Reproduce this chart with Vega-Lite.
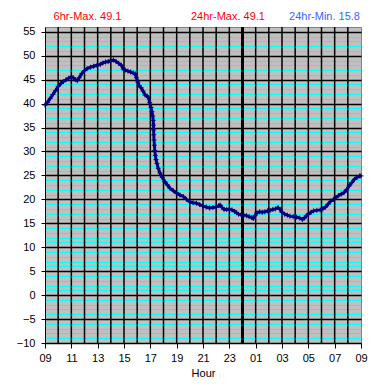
{
  "$schema": "https://vega.github.io/schema/vega-lite/v6.json",
  "width": 316,
  "height": 316,
  "autosize": {"type": "none"},
  "padding": {"left": 45, "top": 27, "right": 24, "bottom": 45},
  "background": "white",
  "config": {
    "view": {"fill": "#c0c0c0", "stroke": "#808080", "strokeWidth": 1},
    "axis": {
      "labelFont": "Liberation Sans",
      "titleFont": "Liberation Sans",
      "labelFontSize": 11,
      "titleFontSize": 11,
      "titleFontWeight": "normal",
      "labelColor": "black",
      "titleColor": "black",
      "domainColor": "black",
      "tickColor": "black",
      "labelOverlap": false,
      "labelFlush": false,
      "labelBound": false
    }
  },
  "datasets": {
    "temps": [
      {"h": 9.0, "t": 39.7}, {"h": 9.2, "t": 40.3}, {"h": 9.4, "t": 41.1}, {"h": 9.6, "t": 41.9},
      {"h": 9.8, "t": 42.7}, {"h": 10.0, "t": 43.6}, {"h": 10.2, "t": 44.2}, {"h": 10.4, "t": 44.6},
      {"h": 10.6, "t": 45.0}, {"h": 10.8, "t": 45.3}, {"h": 11.0, "t": 45.6}, {"h": 11.15, "t": 45.4},
      {"h": 11.3, "t": 45.0}, {"h": 11.45, "t": 44.8}, {"h": 11.6, "t": 45.4}, {"h": 11.8, "t": 46.3},
      {"h": 12.0, "t": 46.9}, {"h": 12.2, "t": 47.3}, {"h": 12.45, "t": 47.6}, {"h": 12.7, "t": 47.8},
      {"h": 12.95, "t": 48.0}, {"h": 13.2, "t": 48.2}, {"h": 13.4, "t": 48.5}, {"h": 13.6, "t": 48.7},
      {"h": 13.8, "t": 48.8}, {"h": 13.95, "t": 48.9}, {"h": 14.2, "t": 49.1}, {"h": 14.4, "t": 48.8},
      {"h": 14.6, "t": 48.4}, {"h": 14.8, "t": 48.0}, {"h": 14.95, "t": 47.2}, {"h": 15.1, "t": 47.0},
      {"h": 15.3, "t": 46.8}, {"h": 15.5, "t": 46.6}, {"h": 15.7, "t": 46.4}, {"h": 15.85, "t": 46.2},
      {"h": 15.95, "t": 45.4}, {"h": 16.05, "t": 44.5}, {"h": 16.15, "t": 43.8}, {"h": 16.3, "t": 43.3},
      {"h": 16.45, "t": 42.6}, {"h": 16.6, "t": 41.8}, {"h": 16.75, "t": 41.6}, {"h": 16.85, "t": 41.3},
      {"h": 16.95, "t": 40.2}, {"h": 17.05, "t": 39.2}, {"h": 17.12, "t": 38.3}, {"h": 17.18, "t": 37.4},
      {"h": 17.22, "t": 36.5}, {"h": 17.24, "t": 35.5}, {"h": 17.25, "t": 34.5}, {"h": 17.26, "t": 33.5},
      {"h": 17.28, "t": 32.4}, {"h": 17.31, "t": 31.3}, {"h": 17.34, "t": 30.2}, {"h": 17.38, "t": 29.2},
      {"h": 17.43, "t": 28.3}, {"h": 17.5, "t": 27.5}, {"h": 17.6, "t": 26.5}, {"h": 17.73, "t": 25.5},
      {"h": 17.9, "t": 24.6}, {"h": 18.1, "t": 23.7}, {"h": 18.3, "t": 23.0}, {"h": 18.5, "t": 22.3},
      {"h": 18.75, "t": 21.8}, {"h": 19.0, "t": 21.3}, {"h": 19.25, "t": 20.9}, {"h": 19.5, "t": 20.6},
      {"h": 19.75, "t": 20.0}, {"h": 20.0, "t": 19.5}, {"h": 20.25, "t": 19.3}, {"h": 20.5, "t": 19.2},
      {"h": 20.75, "t": 18.9}, {"h": 21.0, "t": 18.6}, {"h": 21.25, "t": 18.4}, {"h": 21.5, "t": 18.2},
      {"h": 21.75, "t": 18.3}, {"h": 22.0, "t": 18.4}, {"h": 22.2, "t": 18.7}, {"h": 22.3, "t": 18.8},
      {"h": 22.45, "t": 18.3}, {"h": 22.6, "t": 17.9}, {"h": 22.8, "t": 17.9}, {"h": 23.0, "t": 17.9},
      {"h": 23.2, "t": 17.8}, {"h": 23.4, "t": 17.5}, {"h": 23.55, "t": 17.2}, {"h": 23.7, "t": 16.9},
      {"h": 23.9, "t": 16.8}, {"h": 24.1, "t": 16.7}, {"h": 24.3, "t": 16.6}, {"h": 24.5, "t": 16.4},
      {"h": 24.7, "t": 16.2}, {"h": 24.82, "t": 16.0}, {"h": 24.95, "t": 16.6}, {"h": 25.1, "t": 17.2},
      {"h": 25.3, "t": 17.4}, {"h": 25.5, "t": 17.3}, {"h": 25.7, "t": 17.4}, {"h": 25.9, "t": 17.6},
      {"h": 26.1, "t": 17.7}, {"h": 26.3, "t": 17.9}, {"h": 26.5, "t": 18.0}, {"h": 26.7, "t": 18.3},
      {"h": 26.85, "t": 17.9}, {"h": 27.0, "t": 17.3}, {"h": 27.2, "t": 16.9}, {"h": 27.4, "t": 16.7},
      {"h": 27.6, "t": 16.5}, {"h": 27.85, "t": 16.4}, {"h": 28.1, "t": 16.3}, {"h": 28.35, "t": 16.1},
      {"h": 28.55, "t": 15.8}, {"h": 28.7, "t": 16.1}, {"h": 28.85, "t": 16.6}, {"h": 29.0, "t": 16.9},
      {"h": 29.2, "t": 17.3}, {"h": 29.4, "t": 17.6}, {"h": 29.65, "t": 17.7}, {"h": 29.9, "t": 17.8},
      {"h": 30.1, "t": 18.0}, {"h": 30.3, "t": 18.4}, {"h": 30.5, "t": 19.0}, {"h": 30.7, "t": 19.6},
      {"h": 30.9, "t": 20.0}, {"h": 31.1, "t": 20.4}, {"h": 31.3, "t": 20.8}, {"h": 31.5, "t": 21.1},
      {"h": 31.7, "t": 21.4}, {"h": 31.9, "t": 22.0}, {"h": 32.1, "t": 22.8}, {"h": 32.3, "t": 23.5},
      {"h": 32.5, "t": 24.2}, {"h": 32.7, "t": 24.6}, {"h": 32.9, "t": 24.9}, {"h": 33.0, "t": 24.9}
    ],
    "hours": [
      {"h": 10}, {"h": 11}, {"h": 12}, {"h": 13}, {"h": 14}, {"h": 15}, {"h": 16}, {"h": 17},
      {"h": 18}, {"h": 19}, {"h": 20}, {"h": 21}, {"h": 22}, {"h": 23}, {"h": 24}, {"h": 25},
      {"h": 26}, {"h": 27}, {"h": 28}, {"h": 29}, {"h": 30}, {"h": 31}, {"h": 32}
    ]
  },
  "data": {"name": "temps"},
  "encoding": {
    "y": {
      "field": "t", "type": "quantitative",
      "scale": {"domain": [-10, 56], "nice": false, "zero": false},
      "axis": {
        "title": null,
        "values": [-10,-9,-8,-7,-6,-5,-4,-3,-2,-1,0,1,2,3,4,5,6,7,8,9,10,11,12,13,14,15,16,17,18,19,20,21,22,23,24,25,26,27,28,29,30,31,32,33,34,35,36,37,38,39,40,41,42,43,44,45,46,47,48,49,50,51,52,53,54,55],
        "labelExpr": "datum.value % 5 == 0 ? datum.label : ''",
        "grid": true,
        "gridColor": {"condition": {"test": "datum.value % 5 == 0", "value": "black"}, "value": "#00ffff"},
        "gridWidth": {"condition": {"test": "datum.value % 5 == 0", "value": 1.5}, "value": 1},
        "gridOpacity": 1,
        "tickColor": {"condition": {"test": "datum.value % 5 != 0", "value": "transparent"}, "value": "black"},
        "tickSize": 4,
        "labelPadding": 6
      }
    }
  },
  "layer": [
    {
      "data": {"name": "hours"},
      "mark": {"type": "rule", "color": "black"},
      "encoding": {
        "x": {"field": "h", "type": "quantitative", "axis": null},
        "y": null,
        "strokeWidth": {"condition": {"test": "datum.h == 24", "value": 3}, "value": 1.5}
      }
    },
    {
      "mark": {"type": "line", "color": "#000080", "strokeWidth": 3},
      "encoding": {
        "x": {
          "field": "h", "type": "quantitative",
          "scale": {"domain": [9, 33], "nice": false, "zero": false},
          "axis": {
            "title": "Hour",
            "values": [9,11,13,15,17,19,21,23,25,27,29,31,33],
            "labelExpr": "((datum.value % 24) < 10 ? '0' : '') + (datum.value % 24)",
            "grid": false,
            "tickSize": 5,
            "labelPadding": 4,
            "titlePadding": 4
          }
        }
      }
    },
    {
      "mark": {"type": "point", "shape": "M-1,0L1,0M0,-1L0,1", "filled": false, "stroke": "#000080", "strokeWidth": 1, "size": 25, "opacity": 1},
      "encoding": {
        "x": {"field": "h", "type": "quantitative", "axis": null}
      }
    },
    {
      "mark": {"type": "point", "opacity": 0},
      "encoding": {
        "x": {
          "field": "h", "type": "quantitative",
          "axis": {
            "orient": "top",
            "title": null,
            "values": [12.19, 22.86, 30.19],
            "labelExpr": "datum.value < 15 ? '6hr-Max. 49.1' : datum.value < 27 ? '24hr-Max. 49.1' : '24hr-Min. 15.8'",
            "labelColor": {"condition": {"test": "datum.value > 27", "value": "#3366ff"}, "value": "#ff0000"},
            "domain": false,
            "ticks": false,
            "tickSize": 0,
            "grid": false,
            "labelPadding": 6
          }
        }
      }
    }
  ],
  "resolve": {"axis": {"x": "independent"}}
}
